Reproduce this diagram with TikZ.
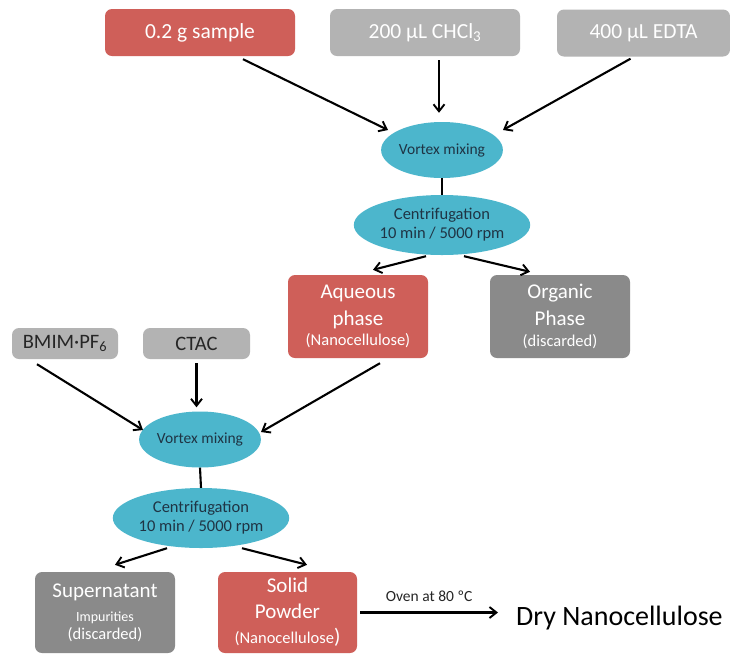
\documentclass[tikz,border=0pt]{standalone}
\usepackage{fontspec}
\setmainfont{Carlito}
\usetikzlibrary{shapes.geometric,arrows.meta}
\definecolor{boxred}{HTML}{CF5F59}
\definecolor{boxlight}{HTML}{B3B3B3}
\definecolor{boxdark}{HTML}{8A8A8A}
\definecolor{stepcyan}{HTML}{4CB6CC}
\definecolor{inktext}{HTML}{1F3444}
\definecolor{labeltext}{HTML}{262626}
\tikzset{
  box/.style={rectangle, rounded corners=7pt, inner sep=0pt, align=center, text=white},
  redbox/.style={box, fill=boxred},
  lightbox/.style={box, fill=boxlight},
  darkbox/.style={box, fill=boxdark},
  stepell/.style={ellipse, fill=stepcyan, inner sep=0pt, align=center, text=inktext},
  arr/.style={-{Straight Barb[length=7pt,width=11pt,line width=1.9pt]}, line width=2.1pt, black},
  link/.style={line width=2.1pt, black},
  reagent/.style={font=\fontsize{21.5}{26}\selectfont, minimum height=47pt},
  phasebox/.style={font=\fontsize{21}{27}\selectfont, minimum width=140pt, minimum height=83pt},
  mixstep/.style={stepell, font=\fontsize{15.5}{18}\selectfont, minimum width=117pt, minimum height=56pt},
  spinstep/.style={stepell, font=\fontsize{16.5}{19}\selectfont, minimum width=146pt, minimum height=60pt}
}
\newcommand{\smalltxt}[1]{{\fontsize{16.5}{19}\selectfont #1}}
\newcommand{\tinytxt}[1]{{\fontsize{14}{16}\selectfont #1}}
\begin{document}
\begin{tikzpicture}[x=1pt,y=-1pt]
\useasboundingbox (0,0) rectangle (730,657);
\fill[white] (0,0) rectangle (730,657);

% first extraction stage
\node[redbox, reagent, minimum width=190pt] (sample) at (200,32.5) {0.2 g sample};
\node[lightbox, reagent, minimum width=190pt] (chcl) at (425,32.5) {200 µL CHCl\textsubscript{3}};
\node[lightbox, reagent, minimum width=173pt] (edta) at (643.5,33) {400 µL EDTA};

\node[mixstep] (vortexA) at (442,150) {Vortex mixing};
\node[spinstep] (centA) at (442,225) {Centrifugation\\10 min / 5000 rpm};

\node[redbox, phasebox] (aqueous) at (358,316.5) {Aqueous\\phase\\[-7pt]\smalltxt{(Nanocellulose)}};
\node[darkbox, phasebox] (organic) at (560,316.5) {Organic\\Phase\\[-6pt]\smalltxt{(discarded)}};

% second extraction stage
\node[lightbox, font=\fontsize{20.5}{24}\selectfont, text=labeltext, minimum width=106pt, minimum height=31pt] (bmim) at (65,343.5) {BMIM·PF\textsubscript{6}};
\node[lightbox, font=\fontsize{20.5}{24}\selectfont, text=labeltext, minimum width=107pt, minimum height=31pt] (ctac) at (196.5,343.5) {CTAC};

\node[mixstep] (vortexB) at (200,439.5) {Vortex mixing};
\node[spinstep] (centB) at (201,518) {Centrifugation\\10 min / 5000 rpm};

\node[darkbox, font=\fontsize{21}{24}\selectfont, minimum width=140pt, minimum height=81pt] (super) at (105,612.5) {Supernatant\\\tinytxt{Impurities}\\[-6pt]\smalltxt{(discarded)}};
\node[redbox, font=\fontsize{21}{25.5}\selectfont, minimum width=139pt, minimum height=81pt] (solid) at (287.5,612.5) {Solid\\Powder\\\smalltxt{(Nanocellulose}{)}};

\node[font=\fontsize{28}{33}\selectfont, anchor=base west, inner sep=0pt, text=black] (dry) at (516,625) {Dry Nanocellulose};

% free ends of the straight feeds
\coordinate (chclfoot) at ([xshift=14pt,yshift=-4pt]chcl.south);
\coordinate (ctacfoot) at ([yshift=-4pt]ctac.south);
\coordinate (ovenend) at ([xshift=-18pt]dry.west |- solid.east);

% connectors into the first mixing step
\draw[arr] ([xshift=43pt,yshift=-3pt]sample.south) -- ([xshift=-54pt,yshift=20pt]vortexA.center);
\draw[arr, shorten >=9pt] (chclfoot) -- (chclfoot |- vortexA.north);
\draw[arr] ([xshift=-13pt,yshift=-2pt]edta.south) -- ([xshift=61pt,yshift=20pt]vortexA.center);
\draw[link] (vortexA.south) -- (centA.north);
\draw[arr] ([xshift=-16pt,yshift=-1pt]centA.south) -- ([xshift=15pt,yshift=5pt]aqueous.north);
\draw[arr] ([xshift=22pt,yshift=-1pt]centA.south) -- ([xshift=-30pt,yshift=3pt]organic.north);

% connectors into the second mixing step
\draw[arr] ([xshift=-28pt,yshift=-5pt]bmim.south) -- ([xshift=-57pt,yshift=9.5pt]vortexB.center);
\draw[arr, shorten >=4pt] (ctacfoot) -- (ctacfoot |- vortexB.north);
\draw[arr] ([xshift=22pt,yshift=-5pt]aqueous.south) -- ([xshift=61pt,yshift=7.5pt]vortexB.center);
\draw[link] (vortexB.south) -- (centB.north);
\draw[arr] ([xshift=-34pt]centB.south) -- ([xshift=10pt,yshift=7pt]super.north);
\draw[arr] ([xshift=41pt]centB.south) -- ([xshift=19.5pt,yshift=7pt]solid.north);

\draw[arr] ([xshift=3pt]solid.east) -- node[above=7pt, font=\fontsize{15.5}{18}\selectfont, text=labeltext] (oven) {Oven at 80 ºC} (ovenend);
\end{tikzpicture}
\end{document}
